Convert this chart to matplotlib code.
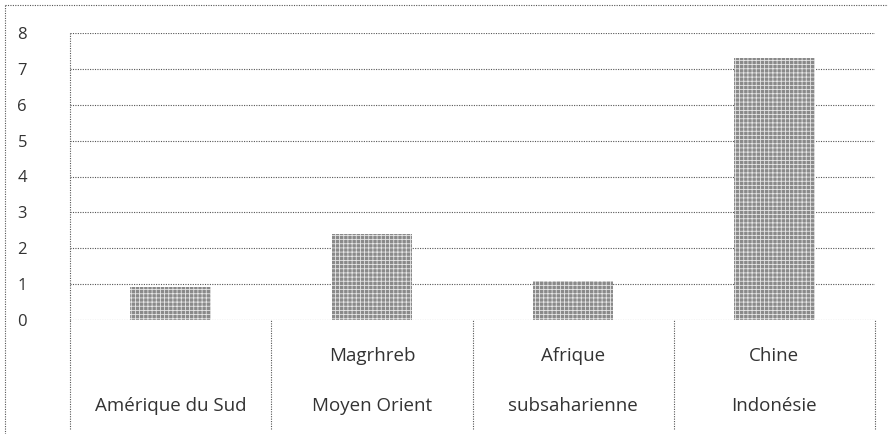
import matplotlib
matplotlib.use("Agg")
import matplotlib.pyplot as plt
from matplotlib.lines import Line2D

categories_top = ["", "Magrhreb", "Afrique", "Chine"]
categories_bottom = ["Amérique du Sud", "Moyen Orient", "subsaharienne", "Indonésie"]
values = [0.92, 2.4, 1.1, 7.3]
yticks = [0, 1, 2, 3, 4, 5, 6, 7, 8]

plt.rcParams["font.family"] = ["Open Sans", "DejaVu Sans"]
plt.rcParams["hatch.linewidth"] = 0.6
DOT = (0, (1, 1.2))
GRID = "#555555"
TXT = "#333333"

fig = plt.figure(figsize=(8.88, 4.34), dpi=100)
ax = fig.add_axes([70 / 888, 1 - 320 / 434, 805 / 888, 287 / 434])

x = list(range(len(values)))
ax.bar(x, values, width=0.4, color="#8a8a8a", edgecolor="#e6e6e6",
       hatch="++++", linewidth=0, zorder=3)

ax.set_xlim(-0.5, 3.5)
ax.set_ylim(0, 8)
ax.set_yticks(yticks)
ax.set_yticklabels([str(t) for t in yticks], fontsize=12, color=TXT)
ax.tick_params(axis="y", length=0, pad=31)
ax.tick_params(axis="x", length=0, labelbottom=False)
for s in ax.spines.values():
    s.set_visible(False)
for t in yticks:
    ax.axhline(t, color=GRID, lw=0.8, ls=DOT, zorder=1)

# category table below the axis
trans = ax.get_xaxis_transform()
for d in [-0.5, 0.5, 1.5, 2.5, 3.5]:
    ax.plot([d, d], [-0.38, 0], transform=trans, color=GRID, lw=0.8, ls=DOT, clip_on=False)
ax.plot([-0.5, -0.5], [0, 1], transform=trans, color=GRID, lw=0.8, ls=DOT, clip_on=False)
for i in x:
    ax.text(i, -0.124, categories_top[i], transform=trans, ha="center", va="center",
            fontsize=13.5, color=TXT)
    ax.text(i, -0.298, categories_bottom[i], transform=trans, ha="center", va="center",
            fontsize=13.5, color=TXT)

# outer frame of the scanned chart
fig.add_artist(Line2D([5 / 888, 1], [1 - 5 / 434, 1 - 5 / 434], color=GRID, lw=0.8, ls=DOT))
fig.add_artist(Line2D([5 / 888, 5 / 888], [0, 1 - 5 / 434], color=GRID, lw=0.8, ls=DOT))

fig.savefig("out.png", dpi=100)
